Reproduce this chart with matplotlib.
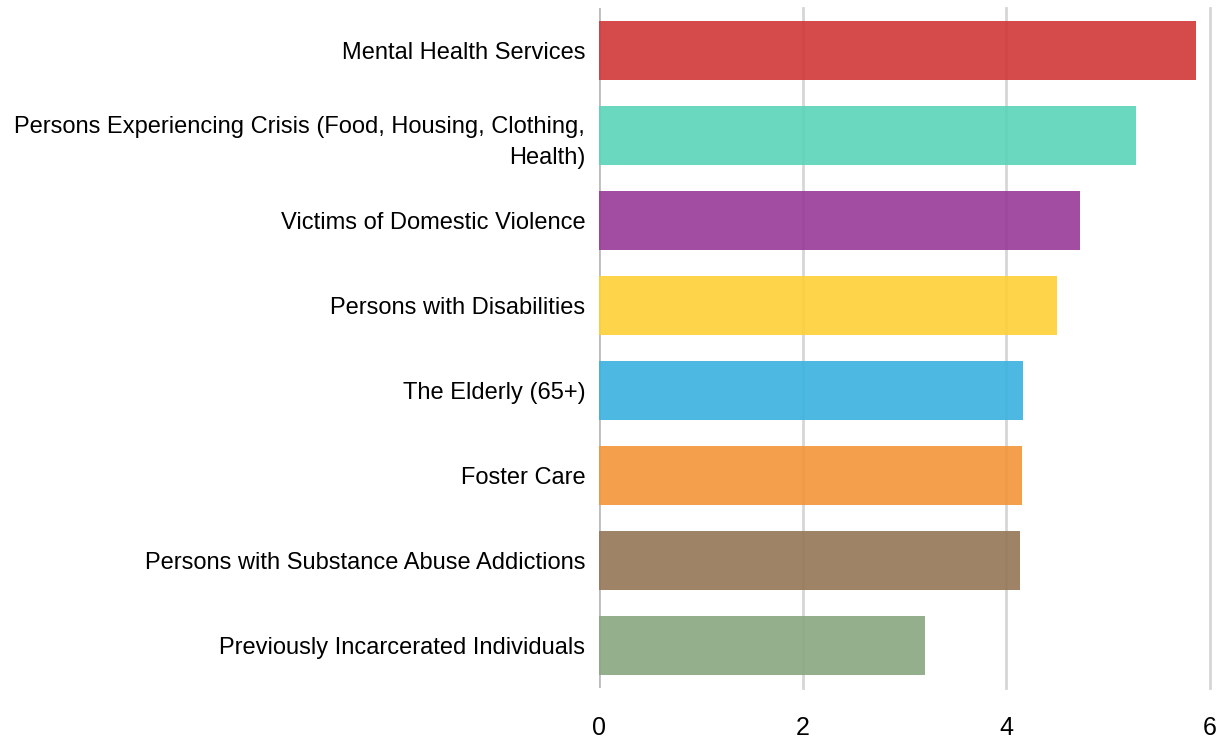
import matplotlib
matplotlib.use("Agg")
import matplotlib.pyplot as plt
from matplotlib import colors as mcolors

categories = [
    "Mental Health Services",
    "Persons Experiencing Crisis (Food, Housing, Clothing,\nHealth)",
    "Victims of Domestic Violence",
    "Persons with Disabilities",
    "The Elderly (65+)",
    "Foster Care",
    "Persons with Substance Abuse Addictions",
    "Previously Incarcerated Individuals",
]
values = [5.87, 5.28, 4.73, 4.50, 4.17, 4.16, 4.14, 3.20]
bar_colors = ["#d64a4b", "#6ad8be", "#a24ca2", "#fed54a",
              "#4dbae2", "#f4a04c", "#a08466", "#94b08c"]
xticks = [0, 2, 4, 6]

ALPHA = 0.9


def base_color(c):
    # darken so the bar looks like c after alpha blending on white
    rgb = mcolors.to_rgb(c)
    return tuple(max(0.0, (v - (1 - ALPHA)) / ALPHA) for v in rgb)


plt.rcParams["font.family"] = ["Liberation Sans", "DejaVu Sans"]

fig = plt.figure(figsize=(12.25, 7.4), dpi=100)
ax = fig.add_axes([0.489, 0.0703, 0.4985, 0.919])

ypos = list(range(len(categories)))
ax.barh(ypos, values, height=0.7, color=[base_color(c) for c in bar_colors],
        alpha=ALPHA, zorder=2)

for x in xticks[1:]:
    ax.axvline(x, color="#d6d6d6", lw=2, zorder=1, clip_on=False)
ax.axvline(0, color="#bcbcbc", lw=2, zorder=1)

ax.set_xlim(0, 6)
ax.set_ylim(len(categories) - 0.5, -0.5)
ax.set_yticks(ypos)
ax.set_yticklabels(categories, fontsize=17, ha="right",
                   multialignment="right", linespacing=1.55)
ax.set_xticks(xticks)
ax.set_xticklabels([str(t) for t in xticks], fontsize=18)
ax.tick_params(axis="y", length=0, pad=10)
ax.tick_params(axis="x", length=0, pad=20)
for s in ax.spines.values():
    s.set_visible(False)

fig.savefig("out.png", dpi=100)
